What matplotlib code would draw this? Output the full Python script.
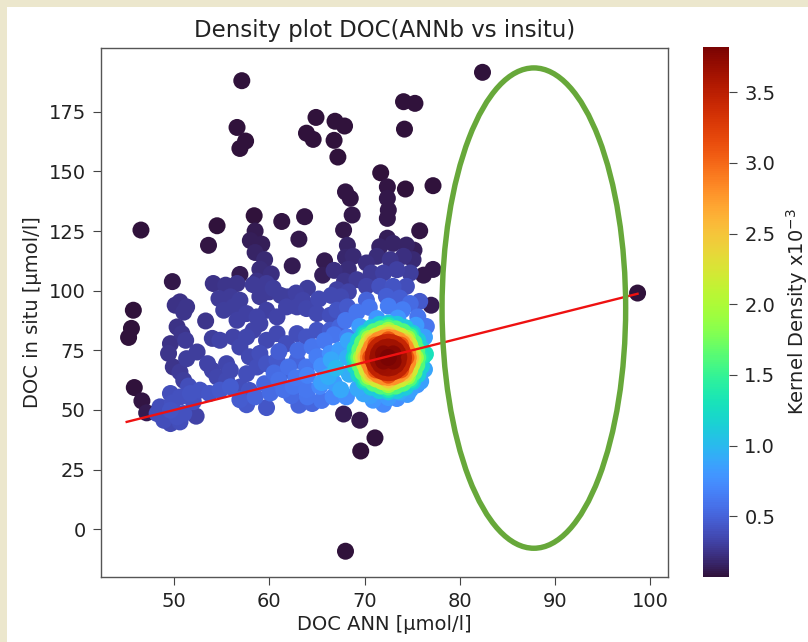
import numpy as np
import matplotlib
matplotlib.use("Agg")
import matplotlib.pyplot as plt
from matplotlib.patches import Ellipse, Rectangle

# ---------------- data (DOC ANN, DOC in situ, kernel density x1e-3) ----------------
outliers = [
    (57.1, 188.0, 0.07), (82.4, 191.5, 0.07), (64.9, 172.6, 0.08), (66.9, 171.0, 0.08),
    (67.9, 169.0, 0.08), (63.9, 166.0, 0.08), (64.6, 163.4, 0.08), (66.8, 163.0, 0.08),
    (67.2, 156.0, 0.08), (56.6, 168.4, 0.07), (57.5, 162.7, 0.07), (56.9, 159.6, 0.07),
    (74.1, 179.2, 0.07), (75.3, 178.5, 0.07), (74.2, 167.7, 0.07), (71.7, 149.4, 0.08),
    (72.4, 143.5, 0.09), (74.3, 142.6, 0.08), (77.2, 144.0, 0.07), (68.0, 141.4, 0.09),
    (68.5, 138.7, 0.09), (72.4, 138.7, 0.1), (72.5, 133.8, 0.1), (72.4, 130.3, 0.11),
    (68.7, 131.7, 0.1), (46.5, 125.4, 0.07), (58.4, 131.4, 0.08), (54.5, 127.2, 0.08),
    (53.6, 119.0, 0.09), (61.3, 129.0, 0.09), (63.7, 131.0, 0.09), (63.1, 121.6, 0.1),
    (67.8, 125.4, 0.11), (75.8, 125.1, 0.09), (62.4, 110.4, 0.12), (65.8, 112.5, 0.12),
    (65.6, 106.5, 0.14), (56.9, 106.8, 0.12), (49.8, 103.8, 0.1), (77.2, 108.9, 0.1),
    (76.2, 106.5, 0.11), (77.0, 93.9, 0.12), (98.7, 99.0, 0.07), (45.7, 91.8, 0.07),
    (45.5, 84.2, 0.07), (45.2, 80.4, 0.07), (45.8, 59.4, 0.08), (46.6, 53.8, 0.09),
    (47.1, 48.8, 0.12), (68.0, -9.2, 0.07), (69.5, 45.7, 0.1), (71.1, 38.3, 0.08),
    (69.6, 32.8, 0.07), (67.8, 48.3, 0.12),
]

upper_mass = [
    (50.6, 95.3, 0.24), (51.3, 93.2, 0.26), (50.1, 93.9, 0.24), (51.0, 91.0, 0.26),
    (54.1, 103.0, 0.24), (55.4, 102.3, 0.26), (56.6, 103.0, 0.26), (58.3, 102.5, 0.28),
    (59.7, 103.0, 0.28), (60.4, 101.0, 0.3), (54.7, 96.7, 0.28), (55.9, 97.4, 0.28),
    (56.9, 96.0, 0.3), (55.2, 91.8, 0.3), (56.2, 93.2, 0.3), (53.3, 87.3, 0.26),
    (50.3, 84.8, 0.24), (50.8, 82.0, 0.26), (51.2, 79.2, 0.28), (54.0, 80.0, 0.3),
    (49.6, 77.8, 0.24), (49.4, 73.7, 0.26), (52.4, 74.3, 0.3), (51.3, 71.5, 0.3),
    (49.9, 68.0, 0.26), (50.6, 65.9, 0.28), (51.0, 62.4, 0.3), (53.5, 69.4, 0.32),
    (54.0, 66.6, 0.33), (54.5, 63.8, 0.34), (55.5, 69.4, 0.34), (55.9, 66.6, 0.36),
    (55.5, 62.4, 0.36), (54.8, 79.2, 0.32), (56.2, 80.6, 0.33), (56.9, 76.4, 0.34),
    (57.6, 80.6, 0.34), (58.3, 83.4, 0.33), (59.0, 86.2, 0.32), (56.6, 87.6, 0.31),
    (57.6, 90.4, 0.31), (58.7, 89.0, 0.32), (59.7, 91.8, 0.31), (60.8, 89.0, 0.33),
    (61.8, 93.2, 0.32), (62.9, 93.2, 0.33), (63.9, 92.5, 0.34), (65.0, 90.4, 0.36),
    (66.4, 89.7, 0.39), (67.1, 91.8, 0.41), (68.2, 93.2, 0.44), (57.9, 72.3, 0.36),
    (59.0, 73.7, 0.38), (58.7, 68.0, 0.39), (57.6, 65.2, 0.39), (56.9, 59.6, 0.39),
    (57.9, 58.2, 0.41), (59.7, 79.2, 0.36), (60.8, 82.0, 0.36), (61.8, 77.8, 0.39),
    (62.9, 82.0, 0.39), (63.9, 80.6, 0.42), (65.0, 83.4, 0.42), (66.4, 83.4, 0.46),
    (67.4, 84.8, 0.5), (59.7, 69.4, 0.42), (60.8, 70.8, 0.44), (61.8, 66.6, 0.48),
    (62.9, 70.8, 0.5),
    (58.5, 125.0, 0.12), (58.0, 121.0, 0.14), (59.2, 119.5, 0.14), (58.5, 116.0, 0.17),
    (59.5, 113.0, 0.19), (59.0, 109.0, 0.21), (60.2, 107.0, 0.22), (58.7, 104.0, 0.24),
    (60.0, 99.5, 0.28), (59.0, 97.5, 0.28), (55.5, 101.6, 0.25), (61.9, 97.4, 0.3),
    (66.8, 108.5, 0.22), (67.5, 97.4, 0.35), (61.2, 98.0, 0.3), (62.8, 99.0, 0.31),
    (64.0, 101.0, 0.29), (65.2, 96.5, 0.35), (66.5, 98.0, 0.35), (63.5, 96.0, 0.33),
]

tower = [
    (68.2, 119.0, 0.16), (68.0, 114.0, 0.18), (68.3, 109.0, 0.21), (67.9, 104.0, 0.26),
    (68.3, 99.5, 0.33), (68.8, 114.4, 0.19), (70.2, 111.6, 0.22), (69.2, 104.6, 0.28),
    (70.2, 101.8, 0.33), (70.7, 107.4, 0.28), (67.1, 100.4, 0.31),
    (71.6, 118.4, 0.17), (73.0, 119.8, 0.17), (74.4, 119.1, 0.16), (71.3, 114.4, 0.21),
    (72.7, 113.0, 0.25), (74.1, 114.4, 0.23), (75.1, 113.0, 0.2), (72.0, 107.4, 0.31),
    (73.4, 108.8, 0.31), (74.8, 107.4, 0.29), (71.6, 101.8, 0.4), (73.0, 101.8, 0.42),
    (74.4, 101.8, 0.39), (72.3, 97.6, 0.48), (73.7, 96.9, 0.48), (75.2, 117.0, 0.14),
    (72.4, 122.0, 0.14),
]

lower_left = [
    (48.2, 48.5, 0.38), (48.9, 45.7, 0.38), (49.6, 44.3, 0.36), (50.3, 47.1, 0.4),
    (51.0, 48.5, 0.4), (48.5, 51.3, 0.38), (49.6, 49.9, 0.41), (50.6, 45.0, 0.38),
    (52.3, 47.4, 0.32), (49.6, 56.9, 0.38), (50.6, 55.4, 0.4), (51.7, 56.9, 0.41),
    (52.7, 58.3, 0.41), (53.7, 56.9, 0.43), (54.8, 58.3, 0.44), (55.9, 59.7, 0.46),
    (52.0, 53.5, 0.4), (49.8, 53.0, 0.4), (51.5, 60.0, 0.38), (56.9, 54.3, 0.46),
    (57.6, 52.2, 0.44), (59.7, 51.0, 0.43), (63.1, 52.0, 0.5), (64.5, 52.7, 0.52),
    (58.5, 55.5, 0.5), (60.1, 57.1, 0.55), (61.5, 58.5, 0.58), (62.5, 59.9, 0.6),
    (63.9, 58.5, 0.62), (65.3, 59.9, 0.7),
]

blue_zone = [
    (61.0, 62.5, 0.58), (59.5, 61.0, 0.52), (60.5, 65.5, 0.55), (62.8, 63.5, 0.62),
    (62.0, 68.0, 0.58), (64.0, 64.5, 0.68), (63.0, 75.0, 0.55), (64.5, 76.5, 0.6),
    (65.8, 79.0, 0.62), (65.5, 68.5, 0.75), (61.0, 74.5, 0.48), (62.3, 56.0, 0.55),
    (64.0, 55.5, 0.6), (65.5, 54.0, 0.6), (66.7, 55.5, 0.7), (68.1, 55.5, 0.75),
    (63.9, 68.0, 0.6), (65.0, 72.3, 0.65), (66.4, 73.7, 0.75), (67.4, 75.1, 0.82),
    (68.2, 80.6, 0.65), (69.2, 91.0, 0.6), (70.5, 93.0, 0.6), (72.5, 93.5, 0.65),
    (74.0, 92.0, 0.65), (75.6, 89.0, 0.6), (76.5, 85.0, 0.6), (68.0, 87.5, 0.6),
    (66.8, 81.5, 0.6), (74.8, 94.6, 0.55), (70.2, 96.0, 0.5), (75.8, 95.5, 0.45),
    (70.9, 54.1, 0.8), (72.0, 52.4, 0.72), (73.4, 54.8, 0.75), (69.9, 56.8, 0.88),
    (73.7, 57.5, 0.9), (74.8, 58.5, 0.85), (75.5, 60.5, 0.8), (66.8, 61.3, 0.82),
    (67.0, 67.5, 1.0), (66.2, 64.0, 0.92), (65.5, 61.5, 0.85), (66.5, 71.0, 0.9),
    (67.5, 58.5, 0.9),
]

core_lightblue = [
    (76.3, 80.5, 0.85), (75.4, 85.5, 0.82), (73.5, 88.5, 0.8), (71.3, 88.3, 0.8),
    (69.5, 85.0, 0.82), (68.3, 79.0, 0.88), (68.2, 72.0, 0.92), (68.4, 65.0, 0.92),
    (69.3, 59.0, 0.9), (70.6, 56.0, 0.85), (72.5, 55.2, 0.82), (74.5, 56.5, 0.82),
    (75.9, 62.0, 0.86), (76.3, 67.0, 0.88), (76.4, 73.4, 1.3),
]

core_cyan = [
    (76.1, 72.0, 1.15), (75.6, 79.2, 1.12), (74.3, 84.5, 1.1), (72.5, 86.4, 1.1),
    (70.7, 84.5, 1.12), (69.4, 79.2, 1.16), (68.9, 72.0, 1.2), (69.4, 64.8, 1.18),
    (70.7, 59.5, 1.12), (72.5, 57.6, 1.1), (74.3, 59.5, 1.12), (75.6, 64.8, 1.15),
    (75.98, 75.73, 1.14), (75.05, 82.18, 1.12), (73.43, 85.91, 1.1), (71.57, 85.91, 1.1),
    (69.95, 82.18, 1.13), (69.02, 75.73, 1.18), (69.02, 68.27, 1.2), (69.95, 61.82, 1.16),
    (71.57, 58.09, 1.12), (73.43, 58.09, 1.1), (75.05, 61.82, 1.13), (75.98, 68.27, 1.15),
    (75.85, 72.0, 1.38), (74.85, 81.4, 1.36), (72.5, 85.4, 1.36), (70.15, 81.4, 1.38),
    (69.15, 72.0, 1.4), (70.15, 62.6, 1.4), (72.5, 58.6, 1.36), (74.85, 62.6, 1.36),
]

core_green = [
    (75.6, 72.0, 1.62), (75.2, 78.2, 1.6), (74.05, 82.8, 1.6), (72.5, 84.4, 1.6),
    (70.95, 82.8, 1.62), (69.8, 78.2, 1.64), (69.4, 72.0, 1.66), (69.8, 65.8, 1.66),
    (70.95, 61.2, 1.62), (72.5, 59.6, 1.6), (74.05, 61.2, 1.6), (75.2, 65.8, 1.62),
    (75.49, 75.21, 1.62), (74.69, 80.77, 1.6), (73.3, 83.98, 1.6), (71.7, 83.98, 1.6),
    (70.31, 80.77, 1.62), (69.51, 75.21, 1.65), (69.51, 68.79, 1.66), (70.31, 63.23, 1.64),
    (71.7, 60.02, 1.61), (73.3, 60.02, 1.6), (74.69, 63.23, 1.61), (75.49, 68.79, 1.62),
    (75.35, 72.0, 1.9), (74.5, 80.0, 1.88), (72.5, 83.4, 1.88), (70.5, 80.0, 1.9),
    (69.65, 72.0, 1.92), (70.5, 64.0, 1.92), (72.5, 60.6, 1.88), (74.5, 64.0, 1.88),
]

core_yellow = [
    (75.1, 72.0, 2.2), (74.75, 77.2, 2.18), (73.8, 81.0, 2.18), (72.5, 82.4, 2.18),
    (71.2, 81.0, 2.2), (70.25, 77.2, 2.22), (69.9, 72.0, 2.24), (70.25, 66.8, 2.24),
    (71.2, 63.0, 2.2), (72.5, 61.6, 2.18), (73.8, 63.0, 2.18), (74.75, 66.8, 2.2),
    (75.01, 74.69, 2.2), (74.34, 79.35, 2.18), (73.17, 82.05, 2.18), (71.83, 82.05, 2.18),
    (70.66, 79.35, 2.2), (69.99, 74.69, 2.23), (69.99, 69.31, 2.24), (70.66, 64.65, 2.22),
    (71.83, 61.95, 2.19), (73.17, 61.95, 2.18), (74.34, 64.65, 2.19), (75.01, 69.31, 2.2),
    (74.85, 72.0, 2.5), (74.15, 78.6, 2.48), (72.5, 81.4, 2.48), (70.85, 78.6, 2.5),
    (70.15, 72.0, 2.52), (70.85, 65.4, 2.52), (72.5, 62.6, 2.48), (74.15, 65.4, 2.48),
]

core_orange = [
    (74.6, 72.0, 2.82), (74.3, 76.2, 2.8), (73.55, 79.3, 2.78), (72.5, 80.4, 2.78),
    (71.45, 79.3, 2.8), (70.7, 76.2, 2.82), (70.4, 72.0, 2.84), (70.7, 67.8, 2.84),
    (71.45, 64.7, 2.82), (72.5, 63.6, 2.8), (73.55, 64.7, 2.8), (74.3, 67.8, 2.82),
    (74.53, 74.18, 2.82), (73.98, 77.94, 2.8), (73.04, 80.11, 2.78), (71.96, 80.11, 2.78),
    (71.02, 77.94, 2.81), (70.47, 74.18, 2.83), (70.47, 69.82, 2.84), (71.02, 66.06, 2.83),
    (71.96, 63.89, 2.81), (73.04, 63.89, 2.8), (73.98, 66.06, 2.8), (74.53, 69.82, 2.82),
    (74.35, 72.0, 3.12), (73.8, 77.2, 3.1), (72.5, 79.4, 3.1), (71.2, 77.2, 3.12),
    (70.65, 72.0, 3.14), (71.2, 66.8, 3.14), (72.5, 64.6, 3.12), (73.8, 66.8, 3.12),
]

core_red = [
    (74.1, 72.0, 3.45), (73.9, 75.2, 3.43), (73.3, 77.6, 3.42), (72.5, 78.4, 3.42),
    (71.7, 77.6, 3.43), (71.1, 75.2, 3.45), (70.9, 72.0, 3.47), (71.1, 68.8, 3.47),
    (71.7, 66.4, 3.45), (72.5, 65.6, 3.43), (73.3, 66.4, 3.43), (73.9, 68.8, 3.45),
    (74.05, 73.66, 3.44), (73.63, 76.52, 3.43), (72.91, 78.18, 3.42), (72.09, 78.18, 3.42),
    (71.37, 76.52, 3.44), (70.95, 73.66, 3.46), (70.95, 70.34, 3.47), (71.37, 67.48, 3.46),
    (72.09, 65.82, 3.44), (72.91, 65.82, 3.43), (73.63, 67.48, 3.44), (74.05, 70.34, 3.45),
    (73.6, 72.0, 3.64), (73.3, 75.1, 3.62), (72.5, 76.4, 3.62), (71.7, 75.1, 3.64),
    (71.4, 72.0, 3.66), (71.7, 68.9, 3.66), (72.5, 67.6, 3.64), (73.3, 68.9, 3.64),
    (73.52, 73.69, 3.64), (72.92, 76.07, 3.63), (72.08, 76.07, 3.63), (71.48, 73.69, 3.65),
    (71.48, 70.31, 3.66), (72.08, 67.93, 3.65), (72.92, 67.93, 3.64), (73.52, 70.31, 3.64),
    (73.0, 73.5, 3.75), (72.0, 73.5, 3.75), (72.0, 70.5, 3.77), (73.0, 70.5, 3.77),
    (72.5, 72.0, 3.82),
]

line_x = [45.0, 98.7]          # 1:1 reference line
line_y = [45.0, 98.7]

cbar_ticks = [0.5, 1.0, 1.5, 2.0, 2.5, 3.0, 3.5]
x_ticks = [50, 60, 70, 80, 90, 100]
y_ticks = [0, 25, 50, 75, 100, 125, 150, 175]

# highlight ellipse (annotation, data units)
ell_center = (87.8, 92.7)
ell_width, ell_height = 19.3, 201.3

# ---------------- figure ----------------
W, H = 808, 642
fig = plt.figure(figsize=(W / 100, H / 100), dpi=100)
fig.patch.set_facecolor("white")
beige = "#ece7cd"
fig.patches.append(Rectangle((0, 0), 7 / W, 1, transform=fig.transFigure,
                             facecolor=beige, edgecolor="none", zorder=-10))
fig.patches.append(Rectangle((0, 1 - 7 / H), 1, 7 / H, transform=fig.transFigure,
                             facecolor=beige, edgecolor="none", zorder=-10))

ax = fig.add_axes([101 / W, 65 / H, 567 / W, 529 / H])
cax = fig.add_axes([703 / W, 65 / H, 26 / W, 530 / H])

groups = (outliers + upper_mass + tower + lower_left + blue_zone + core_lightblue
          + core_cyan + core_green + core_yellow + core_orange + core_red)
pts = np.array(groups)
order = np.argsort(pts[:, 2], kind="stable")
pts = pts[order]

sc = ax.scatter(pts[:, 0], pts[:, 1], c=pts[:, 2], cmap="turbo", s=150,
                linewidths=0, zorder=2)
ax.plot(line_x, line_y, color="#ee1111", lw=1.7, zorder=3)

ell = Ellipse(ell_center, ell_width, ell_height, fill=False,
              edgecolor="#67a83a", lw=3.9, zorder=4, clip_on=False)
ax.add_patch(ell)

ax.set_xlim(42.3, 101.9)
ax.set_ylim(-20.0, 201.7)
ax.set_xticks(x_ticks)
ax.set_yticks(y_ticks)
ax.tick_params(labelsize=14, length=6, pad=5, color="#444444", labelcolor="#222222")
for sp in ax.spines.values():
    sp.set_color("#555555")
    sp.set_linewidth(1.0)

ax.set_title("Density plot DOC(ANNb vs insitu)", fontsize=16.5, color="#222222", pad=8)
ax.set_xlabel("DOC ANN [µmol/l]", fontsize=14, color="#222222", labelpad=3)
ax.set_ylabel("DOC in situ [µmol/l]", fontsize=14, color="#222222", labelpad=5)

cb = fig.colorbar(sc, cax=cax)
cb.set_ticks(cbar_ticks)
cb.ax.tick_params(labelsize=14, length=6, pad=5, color="#444444", labelcolor="#222222")
cb.outline.set_visible(False)
cb.set_label(r"Kernel Density x10$^{-3}$", fontsize=14, color="#222222", labelpad=6)

fig.savefig("out.png", dpi=100, facecolor=fig.get_facecolor())
